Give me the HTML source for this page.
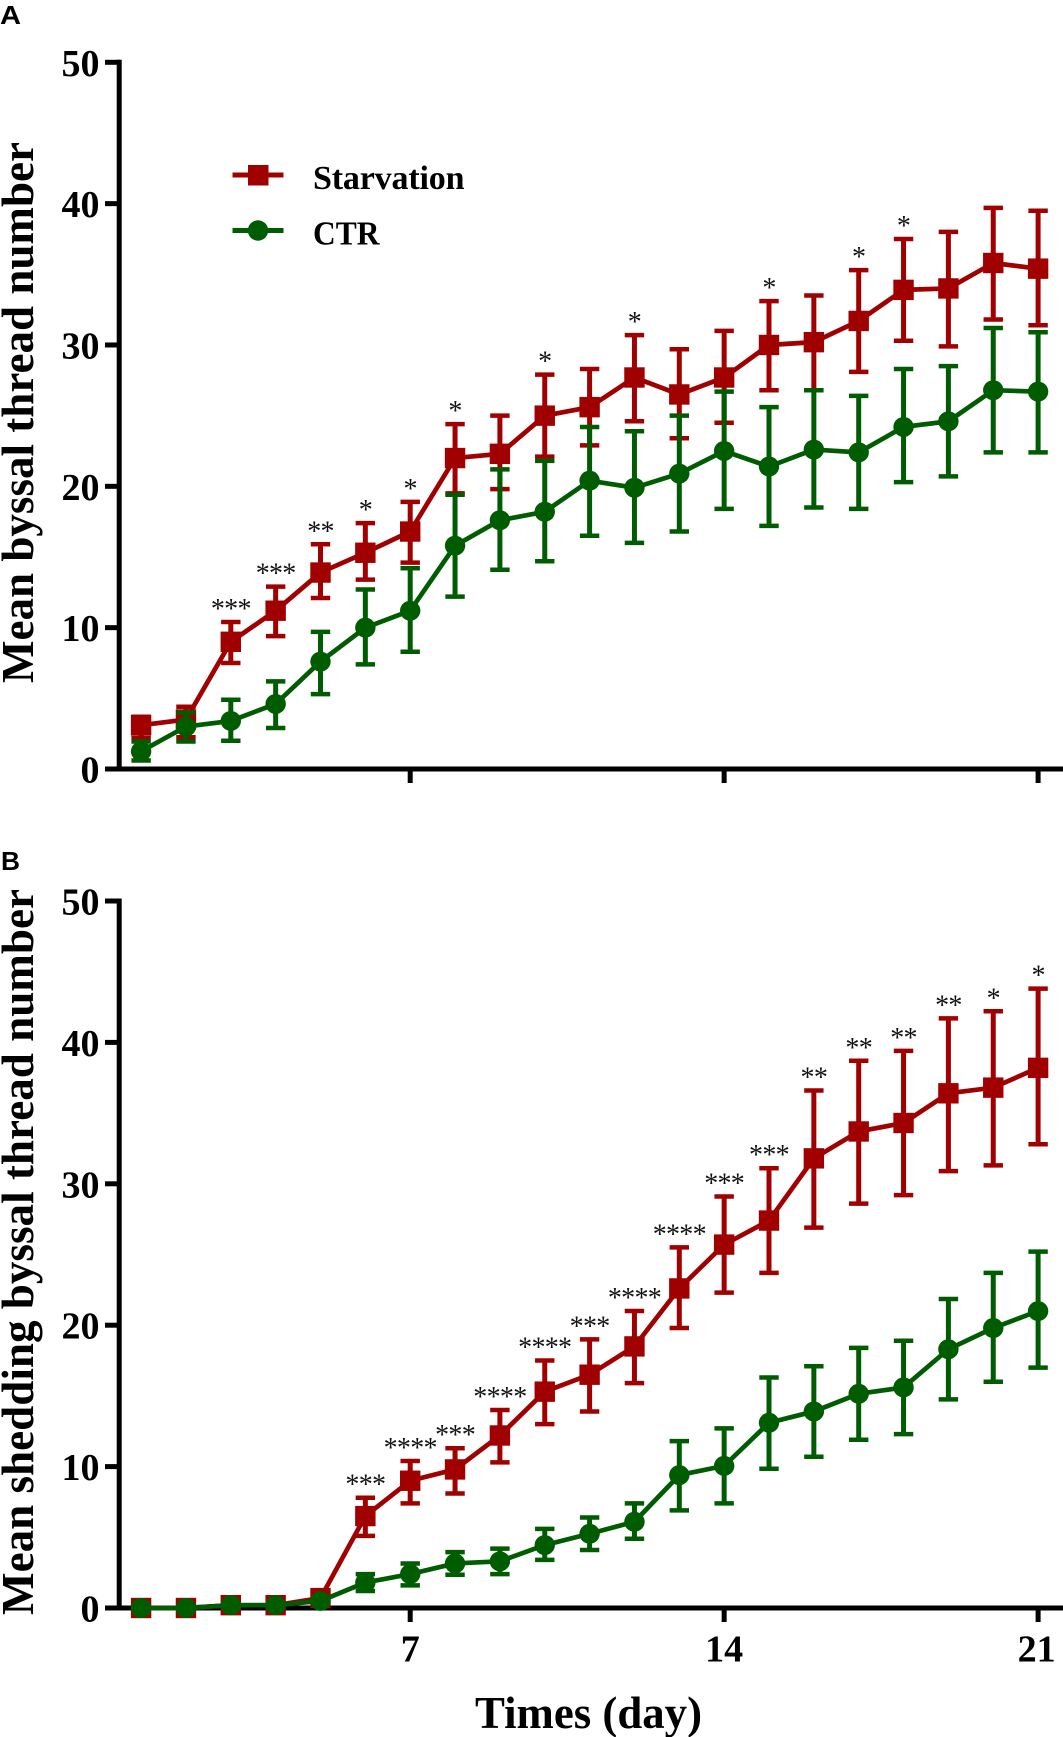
<!DOCTYPE html>
<html lang="en">
<head>
<meta charset="utf-8">
<title>Byssal thread number over time</title>
<style>
html,body{margin:0;padding:0;background:#fff;width:1063px;height:1737px;overflow:hidden}
svg{display:block}
text{font-family:"Liberation Serif",serif;fill:#000}
.num{font-weight:bold;font-size:38px}
.title{font-weight:bold;font-size:46px}
.panel{font-family:"Liberation Sans",sans-serif;font-weight:bold;font-size:26px}
.leg{font-weight:bold;font-size:34px}
.star{font-size:28px;letter-spacing:-0.7px;fill:#111}
</style>
</head>
<body>
<svg id="chart" xmlns="http://www.w3.org/2000/svg" width="1063" height="1737" viewBox="0 0 1063 1737">
  <rect x="0" y="0" width="1063" height="1737" fill="#fff"/>
  <text class="panel" x="0" y="24" textLength="21" lengthAdjust="spacingAndGlyphs">A</text>
  <text class="panel" x="1" y="870" textLength="19" lengthAdjust="spacingAndGlyphs">B</text>
  <text class="title" transform="translate(33,683) rotate(-90)" textLength="541" lengthAdjust="spacingAndGlyphs">Mean byssal thread number</text>
  <text class="title" transform="translate(33,1615) rotate(-90)" textLength="726" lengthAdjust="spacingAndGlyphs">Mean shedding byssal thread number</text>
  <text class="title" x="475" y="1728" textLength="227" lengthAdjust="spacingAndGlyphs">Times (day)</text>
  <g id="panel-a"></g>
  <g id="panel-b"></g>
  <g>
    <g>
      <line x1="232.5" x2="283.5" y1="175" y2="175" stroke="#a00000" stroke-width="5"/>
      <rect x="248" y="165" width="20.5" height="20.5" fill="#a00000"/>
      <text class="leg" x="313" y="189" textLength="151.5" lengthAdjust="spacing">Starvation</text>
    </g>
    <g>
      <line x1="232.5" x2="283.5" y1="230.5" y2="230.5" stroke="#005c00" stroke-width="5"/>
      <circle cx="258" cy="230.5" r="10.2" fill="#005c00"/>
      <text class="leg" x="313" y="244.3" textLength="66.5" lengthAdjust="spacingAndGlyphs">CTR</text>
    </g>
  </g>
</svg>
<script>
const days = [1,2,3,4,5,6,7,8,9,10,11,12,13,14,15,16,17,18,19,20,21];
const yTickValues = [0,10,20,30,40,50];
const xTickValues = [7,14,21];

const aStarvMean  = [3.1,3.5,9.0,11.2,13.9,15.3,16.8,22.0,22.3,25.0,25.6,27.7,26.5,27.7,30.0,30.2,31.7,33.9,34.0,35.8,35.4];
const aStarvUpper = [3.7,4.4,10.4,12.9,15.9,17.4,18.9,24.4,25.0,27.9,28.3,30.7,29.7,31.0,33.1,33.5,35.3,37.5,38.0,39.7,39.5];
const aStarvLower = [2.2,2.25,7.5,9.4,12.1,13.4,14.6,19.5,19.8,22.1,22.9,24.6,23.4,24.5,26.8,26.8,28.1,30.3,29.9,31.8,31.4];
const aCtrMean    = [1.25,3.0,3.4,4.6,7.6,10.0,11.2,15.8,17.6,18.2,20.4,19.9,20.9,22.5,21.4,22.6,22.4,24.2,24.6,26.8,26.7];
const aCtrUpper   = [1.95,4.0,4.9,6.2,9.7,12.7,14.2,19.4,21.2,21.8,24.2,23.9,25.0,26.7,25.6,26.8,26.4,28.3,28.5,31.2,30.9];
const aCtrLower   = [0.6,1.95,2.0,2.9,5.3,7.4,8.3,12.2,14.1,14.7,16.5,16.0,16.8,18.4,17.2,18.5,18.4,20.3,20.7,22.4,22.4];
const aStarCounts = [0,0,3,3,2,1,1,1,0,1,0,1,0,0,1,0,1,1,0,0,0];

const bStarvMean  = [0,0,0.2,0.2,0.7,6.5,9.0,9.8,12.2,15.3,16.5,18.5,22.6,25.7,27.4,31.8,33.7,34.3,36.4,36.8,38.2];
const bStarvUpper = [0,0,0.2,0.2,0.7,7.8,10.4,11.3,14.0,17.5,19.0,21.0,25.5,29.1,31.1,36.6,38.7,39.4,41.7,42.2,43.8];
const bStarvLower = [0,0,0.2,0.2,0.7,5.1,7.4,8.1,10.3,13.0,13.9,15.9,19.8,22.3,23.7,26.9,28.6,29.2,30.9,31.3,32.8];
const bCtrMean    = [0,0,0.2,0.2,0.5,1.8,2.4,3.15,3.3,4.45,5.25,6.1,9.4,10.05,13.1,13.9,15.15,15.6,18.3,19.8,21.0];
const bCtrUpper   = [0,0,0.2,0.2,0.5,2.4,3.15,3.95,4.2,5.6,6.4,7.4,11.8,12.7,16.3,17.1,18.4,18.9,21.85,23.7,25.2];
const bCtrLower   = [0,0,0.2,0.2,0.5,1.2,1.6,2.35,2.4,3.4,4.1,4.9,6.9,7.4,9.85,10.7,11.9,12.3,14.75,16.0,17.0];
const bStarCounts = [0,0,0,0,0,3,4,3,4,4,3,4,4,3,3,2,2,2,2,1,1];

const RED = '#a00000';
const GREEN = '#005c00';
const NS = 'http://www.w3.org/2000/svg';

function xScale(day){ return 410.2 + (day - 7) * 44.85; }
function makeYScale(y0, y50){ return function(v){ return y0 + (y50 - y0) * v / 50; }; }

function make(tag, parent, attrs){
  const n = document.createElementNS(NS, tag);
  for (const k in attrs) n.setAttribute(k, attrs[k]);
  parent.appendChild(n);
  return n;
}

function drawAxes(g, yScale, showXLabels, prefix){
  const yAxis = make('line', g, {x1:119.2, x2:119.2, y1:yScale(50)-2.5, y2:yScale(0), stroke:'#000', 'stroke-width':5});
  
  
  const xAxis = make('line', g, {x1:105, x2:1063, y1:yScale(0), y2:yScale(0), stroke:'#000', 'stroke-width':5});
  
  
  yTickValues.forEach(function(v){
    const t = make('line', g, {x1:105, x2:120, y1:yScale(v), y2:yScale(v), stroke:'#000', 'stroke-width':5});
    
    
    const l = make('text', g, {x:99.5, y:yScale(v)+13.5, 'text-anchor':'end', 'class':'num'});
    
    
    l.textContent = v;
  });
  xTickValues.forEach(function(d){
    const t = make('line', g, {x1:xScale(d), x2:xScale(d), y1:yScale(0), y2:yScale(0)+14, stroke:'#000', 'stroke-width':5});
    
    
    if (showXLabels) {
      const l = make('text', g, {x:xScale(d)-(d===21?1.5:0), y:yScale(0)+53.5, 'text-anchor':'middle', 'class':'num'});
      
      
      l.textContent = d;
    }
  });
}

function drawSeries(g, yScale, mean, upper, lower, color, shape, prefix){
  const poly = make('polyline', g, {
    points: days.map(function(d, i){ return xScale(d) + ',' + yScale(mean[i]); }).join(' '),
    fill: 'none', stroke: color, 'stroke-width': 4.7
  });
  
  
  days.forEach(function(d, i){
    const x = xScale(d);
    const stem = make('line', g, {x1:x, x2:x, y1:yScale(upper[i]), y2:yScale(lower[i]), stroke:color, 'stroke-width':5});
    
    
    const capU = make('line', g, {x1:x-9.7, x2:x+9.7, y1:yScale(upper[i]), y2:yScale(upper[i]), stroke:color, 'stroke-width':4.5});
    
    
    const capL = make('line', g, {x1:x-9.7, x2:x+9.7, y1:yScale(lower[i]), y2:yScale(lower[i]), stroke:color, 'stroke-width':4.5});
    
    
  });
  days.forEach(function(d, i){
    const x = xScale(d), y = yScale(mean[i]);
    let m;
    if (shape === 'square') {
      m = make('rect', g, {x:x-10.2, y:y-10.2, width:20.4, height:20.4, fill:color});
    } else {
      m = make('ellipse', g, {cx:x, cy:y, rx:10.2, ry:10, fill:color});
    }
    
    
  });
}

function drawStars(g, yScale, upper, counts, prefix, gap){
  days.forEach(function(d, i){
    if (!counts[i]) return;
    const s = make('text', g, {x:xScale(d), y:yScale(upper[i])-gap, 'text-anchor':'middle', 'class':'star'});
    
    
    s.textContent = '*'.repeat(counts[i]);
  });
}

const yA = makeYScale(769, 62.3);
const yB = makeYScale(1608, 901);
const gA = document.getElementById('panel-a');
const gB = document.getElementById('panel-b');

drawSeries(gA, yA, aStarvMean, aStarvUpper, aStarvLower, RED, 'square', 'panel-a-starvation');
drawSeries(gA, yA, aCtrMean, aCtrUpper, aCtrLower, GREEN, 'circle', 'panel-a-ctr');
drawAxes(gA, yA, false, 'panel-a');
drawStars(gA, yA, aStarvUpper, aStarCounts, 'panel-a', 4);

drawAxes(gB, yB, true, 'panel-b');
drawSeries(gB, yB, bStarvMean, bStarvUpper, bStarvLower, RED, 'square', 'panel-b-starvation');
drawSeries(gB, yB, bCtrMean, bCtrUpper, bCtrLower, GREEN, 'circle', 'panel-b-ctr');
drawStars(gB, yB, bStarvUpper, bStarCounts, 'panel-b', 4);
</script>
</body>
</html>
